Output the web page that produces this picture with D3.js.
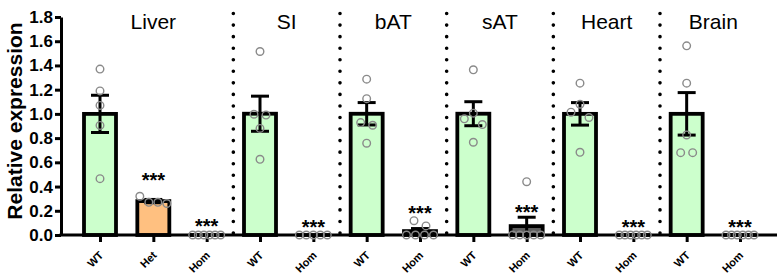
<!DOCTYPE html>
<html>
<head>
<meta charset="utf-8">
<script src="https://cdn.jsdelivr.net/npm/d3@7"></script>
<style>
  html, body { margin: 0; padding: 0; background: #fff; }
  svg { display: block; font-family: "Liberation Sans", Arial, sans-serif; }
</style>
</head>
<body>
<svg id="chart" width="777" height="278"></svg>
<script>
// categories along the x axis and the tissue each one belongs to
const genotypes = ['WT', 'Het', 'Hom', 'WT', 'Hom', 'WT', 'Hom', 'WT', 'Hom', 'WT', 'Hom', 'WT', 'Hom'];
const tissueOf = [0, 0, 0, 1, 1, 2, 2, 3, 3, 4, 4, 5, 5];
const tissues = ['Liver', 'SI', 'bAT', 'sAT', 'Heart', 'Brain'];

// individual animals (relative expression)
const liverWT = [1.37, 1.19, 1.07, 0.905, 0.465];
const liverHet = [0.27, 0.32, 0.27, 0.26];
const liverHom = [0, 0, 0, 0, 0, 0];
const siWT = [1.515, 0.997, 0.99, 0.88, 0.625];
const siHom = [0, 0, 0, 0, 0];
const batWT = [1.287, 1.126, 0.928, 0.906, 0.758];
const batHom = [0.118, 0.075, 0, 0, 0, 0];
const satWT = [1.364, 1.006, 0.959, 0.912, 0.766];
const satHom = [0.44, 0, 0, 0, 0, 0];
const heartWT = [1.254, 1.08, 1.014, 0.97, 0.683];
const heartHom = [0, 0, 0, 0, 0, 0];
const brainWT = [1.562, 1.254, 0.826, 0.68, 0.68];
const brainHom = [0, 0, 0, 0, 0, 0];

// significance marks: category index and the level they sit on
const starIndex = [1, 2, 4, 6, 8, 10, 12];
const starLevel = [0.44, 0.055, 0.047, 0.165, 0.171, 0.047, 0.047];

const yTicks = [0, 0.2, 0.4, 0.6, 0.8, 1.0, 1.2, 1.4, 1.6, 1.8];

const groups = [liverWT, liverHet, liverHom, siWT, siHom, batWT, batHom, satWT, satHom, heartWT, heartHom, brainWT, brainHom];
const fills = { WT: '#ccffcc', Het: '#ffc080', Hom: '#5e5e5e' };

const svg = d3.select('#chart');
const width = 777;
const axisX = 61;
const font = '"Liberation Sans", Arial, sans-serif';

const y = d3.scaleLinear().domain([0, 1.8]).range([235, 17]);
const x = d3.scalePoint().domain(d3.range(genotypes.length)).range([100, 740]);

const stats = groups.map(v => {
  const mean = d3.mean(v);
  const sem = v.length > 1 ? d3.deviation(v) / Math.sqrt(v.length) : 0;
  return { mean, sem };
});

// simple Prism-like spreading of points with similar values
function spread(values) {
  const idx = d3.range(values.length).sort((a, b) => values[b] - values[a]);
  const offs = new Array(values.length).fill(0);
  const clusters = [];
  idx.forEach(i => {
    const last = clusters[clusters.length - 1];
    if (last && Math.abs(y(values[last[last.length - 1]]) - y(values[i])) < 8) last.push(i);
    else clusters.push([i]);
  });
  clusters.forEach(c => {
    const k = c.length;
    if (k === 1) return;
    const s = k === 2 ? 12 : Math.min(9, 28 / (k - 1));
    if (k % 2) {
      c.forEach((i, j) => {
        const step = Math.ceil(j / 2);
        offs[i] = j === 0 ? 0 : (j % 2 ? -step * s : step * s);
      });
    } else {
      c.forEach((i, j) => { offs[i] = (j - (k - 1) / 2) * s; });
    }
  });
  return offs;
}

// dotted dividers between tissues
const dividers = d3.range(1, genotypes.length).filter(i => tissueOf[i] !== tissueOf[i - 1]);
svg.append('g').selectAll('line')
  .data(dividers)
  .join('line')
  .attr('x1', i => (x(i) + x(i - 1)) / 2)
  .attr('x2', i => (x(i) + x(i - 1)) / 2)
  .attr('y1', y(0) - 2)
  .attr('y2', 2)
  .attr('stroke', '#000')
  .attr('stroke-width', 3.6)
  .attr('stroke-linecap', 'round')
  .attr('stroke-dasharray', '0,11.55');

// bars
const barW = 32;
svg.append('g').selectAll('rect')
  .data(stats)
  .join('rect')
  .attr('x', (d, i) => x(i) - barW / 2)
  .attr('y', d => y(d.mean))
  .attr('width', barW)
  .attr('height', d => Math.max(0.01, y(0) - y(d.mean)))
  .attr('fill', (d, i) => fills[genotypes[i]])
  .attr('stroke', '#000')
  .attr('stroke-width', 3.8);

// error bars (mean ± SEM)
const eb = svg.append('g').attr('stroke', '#000').attr('stroke-width', 3);
stats.forEach((d, i) => {
  if (d.sem <= 0) return;
  const lo = Math.max(0, d.mean - d.sem), hi = d.mean + d.sem;
  eb.append('line').attr('x1', x(i)).attr('x2', x(i)).attr('y1', y(lo)).attr('y2', y(hi));
  eb.append('line').attr('x1', x(i) - 9).attr('x2', x(i) + 9).attr('y1', y(hi)).attr('y2', y(hi));
  if (d.mean - d.sem > 0) {
    eb.append('line').attr('x1', x(i) - 9).attr('x2', x(i) + 9).attr('y1', y(lo)).attr('y2', y(lo));
  }
});

// axes
const yAxis = svg.append('g')
  .attr('transform', `translate(${axisX},0)`)
  .call(d3.axisLeft(y).tickValues(yTicks).tickFormat(d3.format('.1f')).tickSize(6).tickSizeOuter(0).tickPadding(2));
yAxis.select('.domain').attr('stroke-width', 3);
yAxis.selectAll('.tick line').attr('stroke-width', 3);
yAxis.selectAll('.tick text').attr('font-size', 17).attr('font-weight', 'bold').attr('fill', '#000')
  .attr('font-family', font);

svg.append('line')
  .attr('x1', axisX - 1.5).attr('x2', width)
  .attr('y1', y(0)).attr('y2', y(0))
  .attr('stroke', '#000').attr('stroke-width', 3);

const xAxis = svg.append('g')
  .attr('transform', `translate(0,${y(0)})`)
  .call(d3.axisBottom(x).tickSize(7).tickSizeOuter(0).tickFormat(''));
xAxis.select('.domain').remove();
xAxis.selectAll('.tick line').attr('stroke-width', 3);
xAxis.selectAll('.tick text').remove();

// rotated genotype labels
const lab = svg.append('g').selectAll('g')
  .data(genotypes)
  .join('g')
  .attr('transform', (g, i) => `translate(${x(i) + 4},${y(0) + 21})`);
lab.append('text')
  .attr('transform', 'rotate(-45)')
  .attr('text-anchor', 'end')
  .attr('font-size', 11)
  .attr('font-weight', 'bold')
  .text(g => g);

// individual points
const pts = svg.append('g');
groups.forEach((vals, i) => {
  const offs = spread(vals);
  pts.append('g').selectAll('circle')
    .data(vals)
    .join('circle')
    .attr('cx', (v, j) => x(i) + offs[j])
    .attr('cy', v => y(v))
    .attr('r', 3.8)
    .attr('fill', 'none')
    .attr('stroke', '#8a8a8a')
    .attr('stroke-width', 1.4);
});

// significance stars
svg.append('g').selectAll('text')
  .data(starIndex)
  .join('text')
  .attr('x', i => x(i))
  .attr('y', (i, k) => y(starLevel[k]) + 5)
  .attr('text-anchor', 'middle')
  .attr('font-size', 20)
  .attr('font-weight', 'bold')
  .text('***');

// tissue labels
svg.append('g').selectAll('text')
  .data(tissues)
  .join('text')
  .attr('x', (t, k) => d3.mean(d3.range(genotypes.length).filter(i => tissueOf[i] === k), i => x(i)))
  .attr('y', 29)
  .attr('text-anchor', 'middle')
  .attr('font-size', 21)
  .text(t => t);

// y axis title
svg.append('text')
  .attr('transform', 'translate(21.5,121) rotate(-90)')
  .attr('text-anchor', 'middle')
  .attr('font-size', 21)
  .attr('font-weight', 'bold')
  .text('Relative expression');
</script>
</body>
</html>
